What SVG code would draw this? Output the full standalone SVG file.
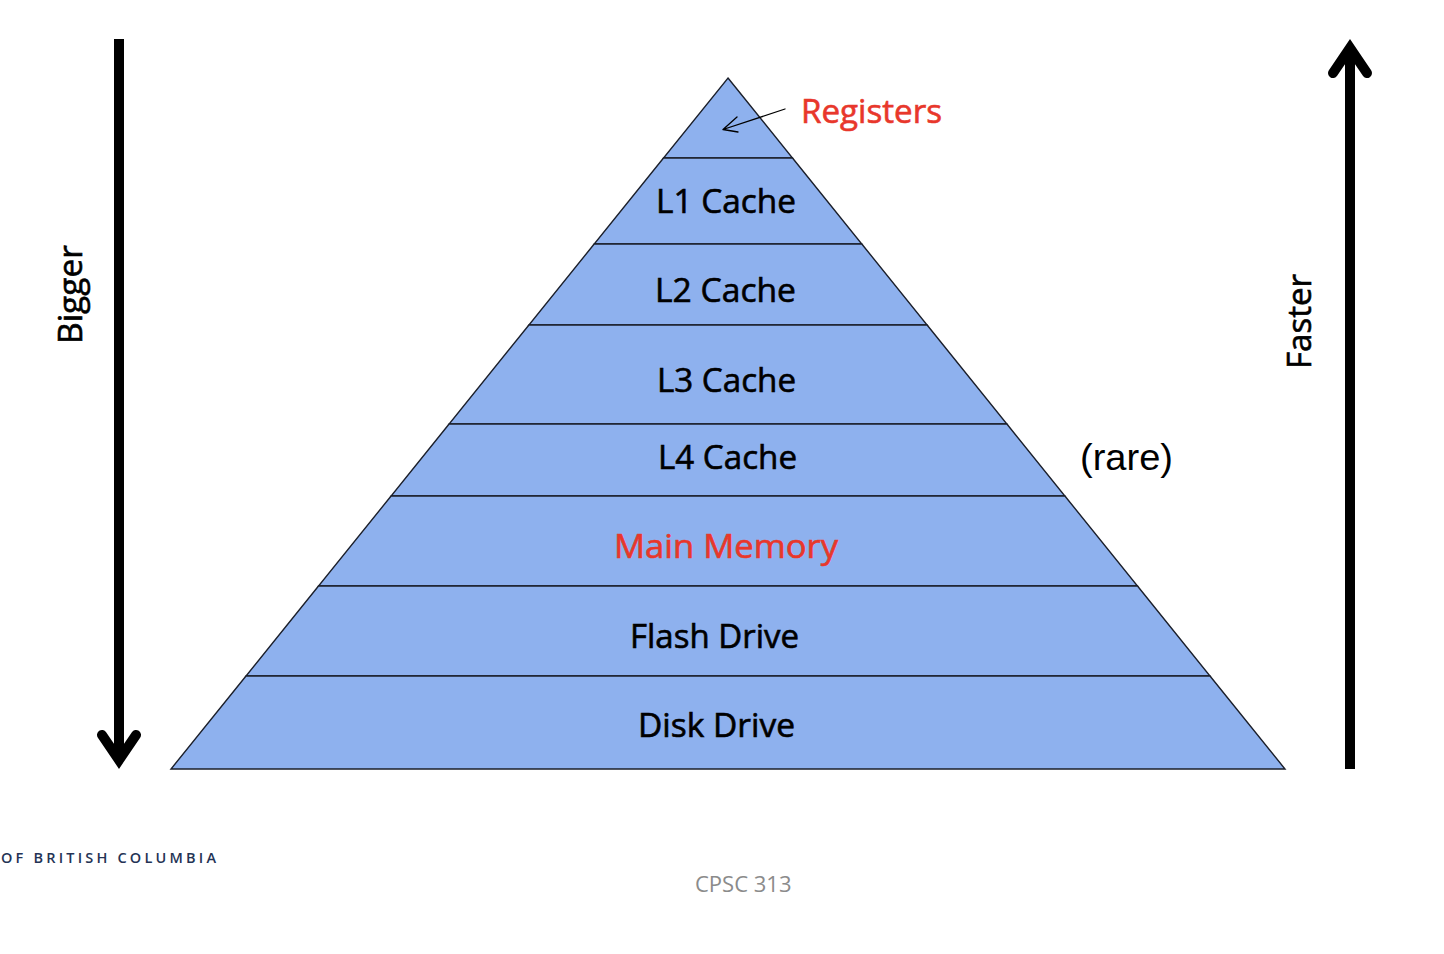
<svg xmlns="http://www.w3.org/2000/svg" width="1444" height="954" viewBox="0 0 1444 954">
<style>
.band{fill:#8eb1ee;stroke:#1b1f2a;stroke-width:1.4;stroke-linejoin:miter}
.lbl{font-family:"Open Sans","Liberation Sans",sans-serif;font-size:32px;fill:#000;stroke:#000;stroke-width:0.6}
.red{fill:#e8372b;stroke:#e8372b}
.big{fill:none;stroke:#000;stroke-width:10}
</style>
<defs>
<marker id="head" markerUnits="userSpaceOnUse" markerWidth="80" markerHeight="80" viewBox="-50 -40 80 80" refX="-8" refY="0" orient="auto" overflow="visible">
<polyline points="-33,-17 -8,0 -33,17" fill="none" stroke="#000" stroke-width="10" stroke-linecap="round" stroke-linejoin="miter"/>
</marker>
</defs>
<rect width="1444" height="954" fill="#fff"/>

<g id="registers">
<polygon class="band" points="728,78 792.5,158 663.5,158"/>
</g>
<g id="l1">
<polygon class="band" points="663.5,158 792.5,158 861.8,244 594.2,244"/>
<text class="lbl" x="656" y="213" textLength="140" lengthAdjust="spacingAndGlyphs">L1 Cache</text>
</g>
<g id="l2">
<polygon class="band" points="594.2,244 861.8,244 927.1,325 528.9,325"/>
<text class="lbl" x="655" y="302" textLength="141" lengthAdjust="spacingAndGlyphs">L2 Cache</text>
</g>
<g id="l3">
<polygon class="band" points="528.9,325 927.1,325 1006.9,424 449.1,424"/>
<text class="lbl" x="657" y="392" textLength="139" lengthAdjust="spacingAndGlyphs">L3 Cache</text>
</g>
<g id="l4">
<polygon class="band" points="449.1,424 1006.9,424 1064.9,496 391.1,496"/>
<text class="lbl" x="658" y="469" textLength="139" lengthAdjust="spacingAndGlyphs">L4 Cache</text>
</g>
<g id="main-memory">
<polygon class="band" points="391.1,496 1064.9,496 1137.5,586 318.5,586"/>
<text class="lbl red" x="614" y="558" textLength="224" lengthAdjust="spacingAndGlyphs">Main Memory</text>
</g>
<g id="flash-drive">
<polygon class="band" points="318.5,586 1137.5,586 1210,676 246,676"/>
<text class="lbl" x="630" y="648" textLength="169" lengthAdjust="spacingAndGlyphs">Flash Drive</text>
</g>
<g id="disk-drive">
<polygon class="band" points="246,676 1210,676 1285,769 171,769"/>
<text class="lbl" x="638" y="737" textLength="157" lengthAdjust="spacingAndGlyphs">Disk Drive</text>
</g>

<g id="registers-label">
<text class="lbl red" x="801" y="123" textLength="141" lengthAdjust="spacingAndGlyphs">Registers</text>
</g>
<g id="rare-label">
<text x="1080" y="470" font-family="'Liberation Sans',Arial,sans-serif" font-size="36" textLength="93" lengthAdjust="spacingAndGlyphs" fill="#000">(rare)</text>
</g>
<g id="bigger-label">
<text class="lbl" transform="translate(82,294.5) rotate(-90)" text-anchor="middle" textLength="99" lengthAdjust="spacingAndGlyphs">Bigger</text>
</g>
<g id="faster-label">
<text class="lbl" transform="translate(1311,321.5) rotate(-90)" text-anchor="middle" textLength="95" lengthAdjust="spacingAndGlyphs">Faster</text>
</g>

<g id="connectors">
<path d="M785,109 L723,129.5 M737,117 L723,129.5 L738,132" fill="none" stroke="#000" stroke-width="1.3" stroke-linecap="round" stroke-linejoin="round"/>
<line class="big" x1="119" y1="39" x2="119" y2="760" marker-end="url(#head)"/>
<line class="big" x1="1350" y1="769" x2="1350" y2="48" marker-end="url(#head)"/>
</g>

<g id="footer">
<text x="1" y="863" font-family="'Open Sans','Liberation Sans',sans-serif" font-size="14.5" font-weight="600" fill="#243355" textLength="215" lengthAdjust="spacing">OF BRITISH COLUMBIA</text>
<text x="695" y="892" font-family="'Open Sans','Liberation Sans',sans-serif" font-size="22" fill="#8b8b8b">CPSC 313</text>
</g>
</svg>
